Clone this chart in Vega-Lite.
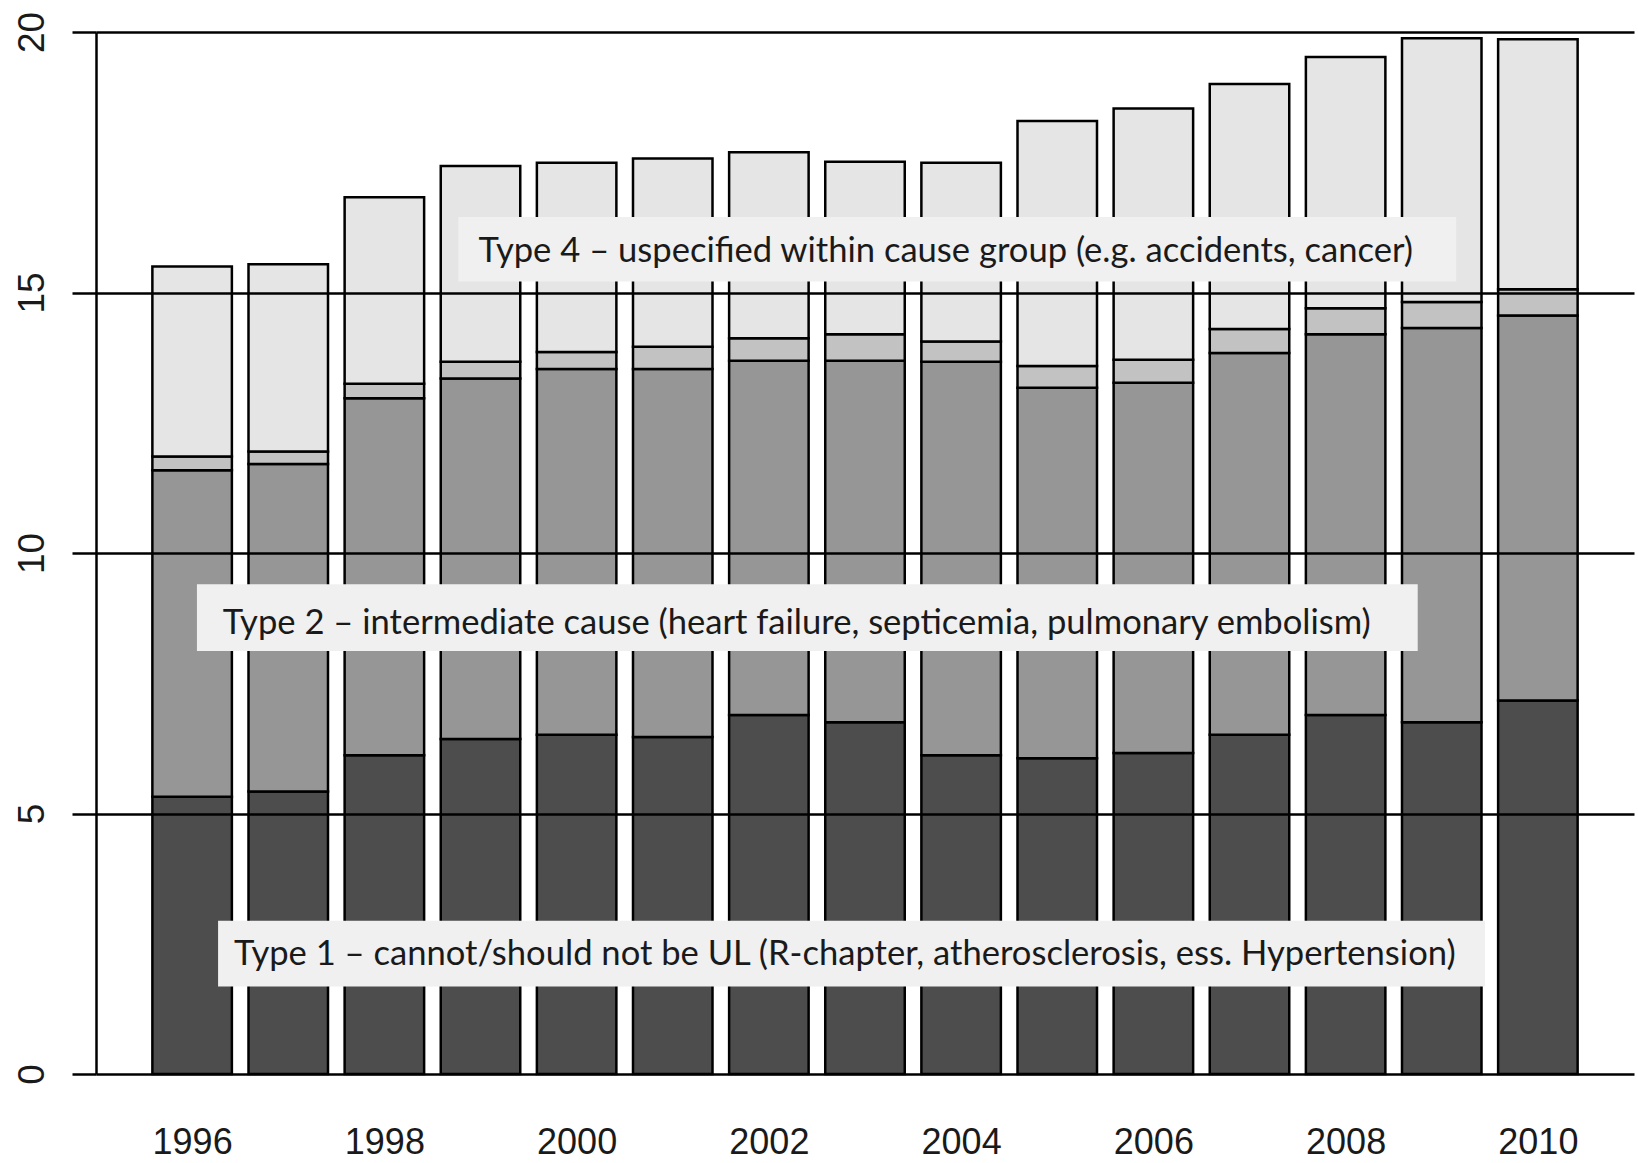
{
  "$schema": "https://vega.github.io/schema/vega-lite/v6.json",
  "width": 1538,
  "height": 1042,
  "autosize": "none",
  "padding": {"left": 96, "top": 32, "right": 4, "bottom": 89},
  "background": "white",
  "config": {"view": {"stroke": null}},
  "datasets": {
    "bars": [
      {"year": 1996, "type": "Type 1", "value": 5.32}, {"year": 1996, "type": "Type 2", "value": 6.27}, {"year": 1996, "type": "Type 3", "value": 0.26}, {"year": 1996, "type": "Type 4", "value": 3.65},
      {"year": 1997, "type": "Type 1", "value": 5.42}, {"year": 1997, "type": "Type 2", "value": 6.29}, {"year": 1997, "type": "Type 3", "value": 0.24}, {"year": 1997, "type": "Type 4", "value": 3.59},
      {"year": 1998, "type": "Type 1", "value": 6.12}, {"year": 1998, "type": "Type 2", "value": 6.85}, {"year": 1998, "type": "Type 3", "value": 0.28}, {"year": 1998, "type": "Type 4", "value": 3.58},
      {"year": 1999, "type": "Type 1", "value": 6.43}, {"year": 1999, "type": "Type 2", "value": 6.92}, {"year": 1999, "type": "Type 3", "value": 0.32}, {"year": 1999, "type": "Type 4", "value": 3.76},
      {"year": 2000, "type": "Type 1", "value": 6.51}, {"year": 2000, "type": "Type 2", "value": 7.02}, {"year": 2000, "type": "Type 3", "value": 0.33}, {"year": 2000, "type": "Type 4", "value": 3.63},
      {"year": 2001, "type": "Type 1", "value": 6.47}, {"year": 2001, "type": "Type 2", "value": 7.06}, {"year": 2001, "type": "Type 3", "value": 0.43}, {"year": 2001, "type": "Type 4", "value": 3.61},
      {"year": 2002, "type": "Type 1", "value": 6.89}, {"year": 2002, "type": "Type 2", "value": 6.80}, {"year": 2002, "type": "Type 3", "value": 0.43}, {"year": 2002, "type": "Type 4", "value": 3.57},
      {"year": 2003, "type": "Type 1", "value": 6.75}, {"year": 2003, "type": "Type 2", "value": 6.94}, {"year": 2003, "type": "Type 3", "value": 0.51}, {"year": 2003, "type": "Type 4", "value": 3.31},
      {"year": 2004, "type": "Type 1", "value": 6.12}, {"year": 2004, "type": "Type 2", "value": 7.55}, {"year": 2004, "type": "Type 3", "value": 0.39}, {"year": 2004, "type": "Type 4", "value": 3.43},
      {"year": 2005, "type": "Type 1", "value": 6.06}, {"year": 2005, "type": "Type 2", "value": 7.11}, {"year": 2005, "type": "Type 3", "value": 0.42}, {"year": 2005, "type": "Type 4", "value": 4.70},
      {"year": 2006, "type": "Type 1", "value": 6.16}, {"year": 2006, "type": "Type 2", "value": 7.11}, {"year": 2006, "type": "Type 3", "value": 0.44}, {"year": 2006, "type": "Type 4", "value": 4.82},
      {"year": 2007, "type": "Type 1", "value": 6.51}, {"year": 2007, "type": "Type 2", "value": 7.33}, {"year": 2007, "type": "Type 3", "value": 0.46}, {"year": 2007, "type": "Type 4", "value": 4.70},
      {"year": 2008, "type": "Type 1", "value": 6.89}, {"year": 2008, "type": "Type 2", "value": 7.31}, {"year": 2008, "type": "Type 3", "value": 0.50}, {"year": 2008, "type": "Type 4", "value": 4.82},
      {"year": 2009, "type": "Type 1", "value": 6.75}, {"year": 2009, "type": "Type 2", "value": 7.57}, {"year": 2009, "type": "Type 3", "value": 0.50}, {"year": 2009, "type": "Type 4", "value": 5.06},
      {"year": 2010, "type": "Type 1", "value": 7.17}, {"year": 2010, "type": "Type 2", "value": 7.39}, {"year": 2010, "type": "Type 3", "value": 0.50}, {"year": 2010, "type": "Type 4", "value": 4.80}
    ],
    "notes": [
      {"label": "Type 4 – uspecified within cause group (e.g. accidents, cancer)", "x_start": 1998.77, "x_end": 2009.15, "y_low": 15.21, "y_high": 16.45, "x_mid": 2003.84, "y_text": 15.59},
      {"label": "Type 2 – intermediate cause (heart failure, septicemia, pulmonary embolism)", "x_start": 1996.05, "x_end": 2008.75, "y_low": 8.12, "y_high": 9.40, "x_mid": 2002.29, "y_text": 8.445},
      {"label": "Type 1 – cannot/should not be UL (R-chapter, atherosclerosis, ess. Hypertension)", "x_start": 1996.27, "x_end": 2009.45, "y_low": 1.68, "y_high": 2.94, "x_mid": 2002.79, "y_text": 2.09}
    ]
  },
  "layer": [
    {
      "data": {"name": "bars"},
      "mark": {"type": "bar", "size": 79.5, "stroke": "#000000", "strokeWidth": 2.5},
      "encoding": {
        "x": {
          "field": "year", "type": "quantitative",
          "scale": {"domain": [1995, 2011], "nice": false, "zero": false, "padding": 0},
          "axis": {
            "title": null, "values": [1996, 1998, 2000, 2002, 2004, 2006, 2008, 2010], "format": "d",
            "domain": false, "ticks": false, "grid": false,
            "labelFont": "Liberation Sans", "labelFontSize": 36, "labelColor": "#1a1a1a",
            "labelBaseline": "alphabetic", "labelPadding": 79, "labelFlush": false, "labelOverlap": false
          }
        },
        "y": {
          "field": "value", "type": "quantitative", "aggregate": "sum", "stack": "zero",
          "scale": {"domain": [0, 20], "nice": false, "padding": 0},
          "axis": {
            "title": null, "values": [0, 5, 10, 15, 20], "zindex": 1,
            "domain": true, "domainColor": "#000000", "domainWidth": 2.5,
            "ticks": true, "tickSize": 24, "tickColor": "#000000", "tickWidth": 2.5,
            "grid": true, "gridColor": "#000000", "gridWidth": 2.5, "gridOpacity": 1,
            "labelAngle": 270, "labelAlign": "center", "labelBaseline": "alphabetic",
            "labelFont": "Liberation Sans", "labelFontSize": 37, "labelColor": "#1a1a1a",
            "labelPadding": 29, "labelFlush": false, "labelOverlap": false
          }
        },
        "color": {
          "field": "type", "type": "nominal", "legend": null,
          "scale": {"domain": ["Type 1", "Type 2", "Type 3", "Type 4"], "range": ["#4d4d4d", "#969696", "#c2c2c2", "#e5e5e5"]}
        },
        "order": {"field": "type", "sort": "ascending"}
      }
    },
    {
      "data": {"name": "notes"},
      "mark": {"type": "rect", "fill": "#f0f0f0", "stroke": null},
      "encoding": {
        "x": {"field": "x_start", "type": "quantitative", "axis": {"title": null}},
        "x2": {"field": "x_end"},
        "y": {"field": "y_low", "type": "quantitative", "axis": {"title": null}},
        "y2": {"field": "y_high"}
      }
    },
    {
      "data": {"name": "notes"},
      "mark": {"type": "text", "font": "Lato", "fontSize": 34.6, "fill": "#1a1a1a", "align": "center", "baseline": "alphabetic"},
      "encoding": {
        "x": {"field": "x_mid", "type": "quantitative", "axis": {"title": null}},
        "y": {"field": "y_text", "type": "quantitative", "axis": {"title": null}},
        "text": {"field": "label"}
      }
    }
  ]
}
